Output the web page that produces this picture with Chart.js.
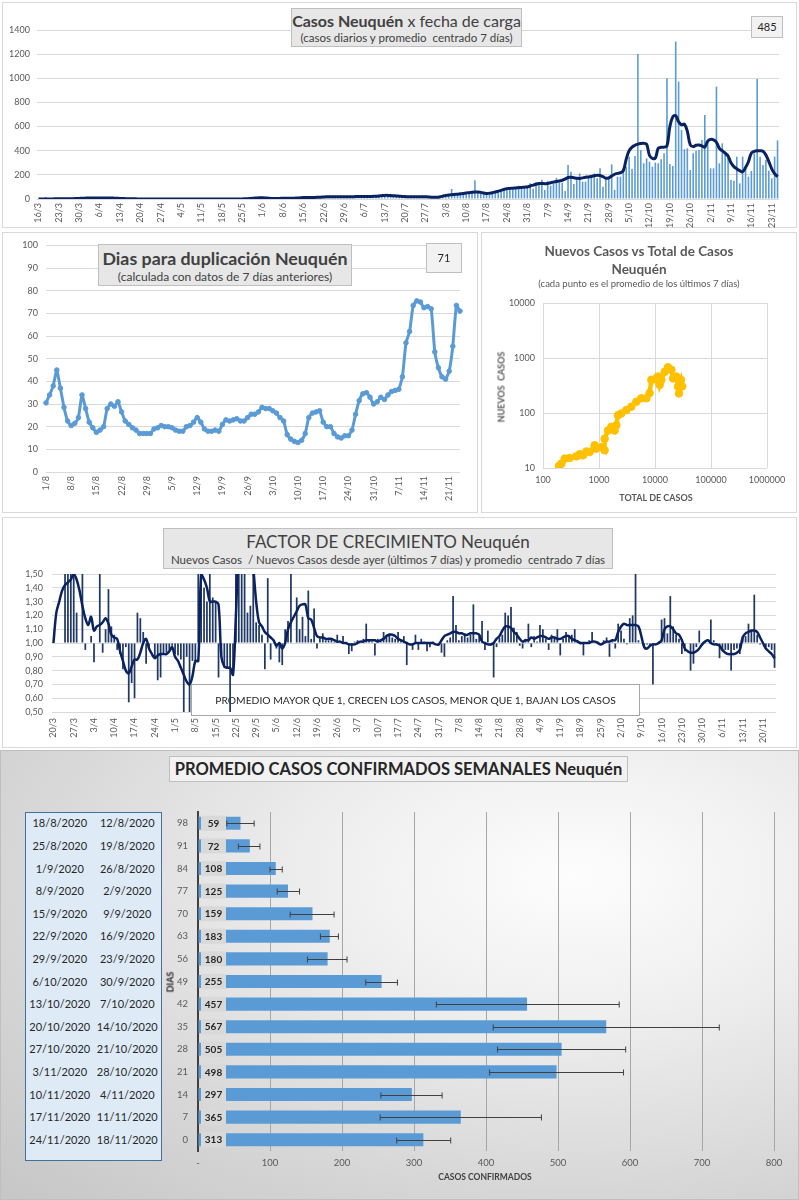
<!DOCTYPE html>
<html lang="es">
<head>
<meta charset="utf-8">
<title>Casos Neuquén</title>
<script src="https://cdn.jsdelivr.net/npm/chart.js@4.4.1/dist/chart.umd.min.js"></script>
<style>
  body { margin: 0; background: #fff; }
  #page { position: relative; width: 799px; height: 1200px; overflow: hidden; font-family: Lato, "Open Sans", sans-serif; color: #404040; }
  .panel { position: absolute; box-sizing: border-box; border: 1px solid #d9d9d9; background: #fff; }
  #p5 { border-color: #bfbfbf; background: radial-gradient(ellipse at 72% 28%, #fdfdfd 0%, #efefef 30%, #d6d6d6 70%, #c6c6c6 100%); }
  canvas.c { position: absolute; }
  .tbox { position: absolute; box-sizing: border-box; background: #e7e7e7; border: 1px solid #bfbfbf; text-align: center; color: #404040; white-space: nowrap; }
  .vbox { position: absolute; box-sizing: border-box; background: #f2f2f2; border: 1px solid #bfbfbf; text-align: center; font-size: 11px; color: #262626; }
  .lbl { position: absolute; white-space: nowrap; }
  .rot { transform: translate(-50%, -50%) rotate(-90deg); }
  #tabla { position: absolute; left: 25px; top: 812px; width: 137px; height: 349px; box-sizing: border-box; background: #deebf7; border: 1px solid #41719c; }
  .fila { position: absolute; left: 0; width: 100%; display: flex; font-size: 11px; line-height: 14px; color: #262626; }
  .fila span { width: 50%; text-align: center; }
</style>
</head>
<body>
<div id="page">
  <div class="panel" style="left:2px;top:2px;width:795px;height:226px"></div>
  <div class="panel" style="left:2px;top:232px;width:476px;height:281px"></div>
  <div class="panel" style="left:481px;top:232px;width:316px;height:281px"></div>
  <div class="panel" style="left:2px;top:517px;width:795px;height:231px"></div>
  <div class="panel" id="p5" style="left:0;top:750px;width:799px;height:450px"></div>

  <canvas class="c" id="casos" width="795" height="226" style="left:2px;top:2px"></canvas>
  <canvas class="c" id="dup" width="476" height="281" style="left:2px;top:232px"></canvas>
  <canvas class="c" id="nvt" width="316" height="281" style="left:481px;top:232px"></canvas>
  <canvas class="c" id="factor" width="795" height="231" style="left:2px;top:517px"></canvas>
  <canvas class="c" id="semanas" width="639" height="410" style="left:160px;top:790px"></canvas>

  <div class="tbox" style="left:291px;top:8px;width:231px;height:39px"><div style="font-size:16px;line-height:20px;margin-top:2px"><b>Casos Neuquén</b> x fecha de carga</div><div style="font-size:11.5px;line-height:14px">(casos diarios y promedio&nbsp; centrado 7 días)</div></div>
  <div class="vbox" id="ultimoCaso" style="left:751px;top:16px;width:32px;height:22px;line-height:20px"></div>

  <div class="tbox" style="left:98px;top:244px;width:254px;height:42px"><div style="font-size:17.8px;line-height:22px;margin-top:2px;font-weight:700">Dias para duplicación Neuquén</div><div style="font-size:12px;line-height:15px">(calculada con datos de 7 días anteriores)</div></div>
  <div class="vbox" id="ultimaDup" style="left:426px;top:243px;width:36px;height:30px;line-height:28px"></div>

  <div class="lbl" style="left:481px;width:316px;top:242px;text-align:center;font-size:13.5px;line-height:18px;font-weight:700;color:#595959">Nuevos Casos vs Total de Casos<br>Neuquén</div>
  <div class="lbl" style="left:481px;width:316px;top:278px;text-align:center;font-size:9.5px;line-height:12px;color:#595959">(cada punto es el promedio de los últimos 7 días)</div>
  <div class="lbl rot" style="left:501px;top:387px;font-size:9px;font-weight:700;color:#595959">NUEVOS&nbsp; CASOS</div>
  <div class="lbl" style="left:656px;top:497px;transform:translate(-50%,-50%);font-size:9px;font-weight:700;color:#595959">TOTAL DE CASOS</div>

  <div class="tbox" style="left:163px;top:528px;width:450px;height:41px"><div style="font-size:17px;line-height:22px;margin-top:2px">FACTOR DE CRECIMIENTO Neuquén</div><div style="font-size:11.5px;line-height:14px">Nuevos Casos&nbsp; / Nuevos Casos desde ayer (últimos 7 días) y promedio&nbsp; centrado 7 días</div></div>

  <div class="tbox" style="left:169px;top:756px;width:459px;height:26px;background:#f2f2f2;font-size:16.5px;line-height:24px;font-weight:700;color:#262626">PROMEDIO CASOS CONFIRMADOS SEMANALES Neuquén</div>
  <div id="tabla"></div>
  <div class="lbl rot" style="left:170px;top:982px;font-size:9px;font-weight:700;color:#262626">DIAS</div>
  <div class="lbl" style="left:485px;top:1177px;transform:translate(-50%,-50%);font-size:8.5px;font-weight:700;color:#404040">CASOS CONFIRMADOS</div>
</div>

<script>
// ---- casos diarios x fecha de carga (16/3 .. 25/11) ----
const casosDiarios = [
  0,0,1,0,2,1,3,1,2,3,2,4,3,6,7,5,                                         // mar
  9,7,11,6,8,10,7,9,10,8,9,5,3,2,4,1,3,2,1,0,2,3,1,2,0,1,1,2,1,0,           // abr
  1,0,2,1,0,1,0,2,1,0,1,1,0,2,0,1,0,1,3,1,0,2,1,0,1,2,0,1,3,2,8,            // may
  12,9,4,3,5,2,6,6,7,5,8,6,9,10,14,12,11,15,13,12,16,18,22,17,19,22,20,18,21,19, // jun
  22,17,23,20,18,22,24,21,20,26,24,30,42,32,30,28,25,22,20,18,16,15,19,17,16,21,17,14,13,12,10, // jul
  20,25,30,40,83,35,28,45,50,40,55,60,155,50,45,38,40,35,55,60,70,65,75,90,95,80,100,110,85,105,95, // ago
  130,85,140,120,160,75,150,110,130,175,150,135,66,282,226,124,171,212,144,144,185,199,212,171,254,102,185,171,287,75, // sep
  185,185,246,268,351,251,356,1201,406,296,337,309,268,301,296,329,378,1000,290,273,1304,972,572,412,420,240,378,400,406,489,696, // oct
  489,254,254,931,296,461,392,373,157,152,351,130,351,268,185,232,378,994,351,282,323,235,171,351,485 // nov
];
const casosPromedio = [
  0,0,1,1,1,1,2,2,2,2,3,3,3,4,5,6,
  7,8,8,8,8,8,8,8,8,8,7,6,5,4,3,2,2,2,1,1,1,1,1,1,1,1,1,1,1,1,
  1,1,1,1,1,1,1,1,1,1,1,1,1,1,1,1,1,1,1,1,1,1,1,1,1,2,3,5,7,9,10,
  10,9,7,5,4,4,5,6,6,6,6,7,8,10,12,12,12,13,13,14,15,17,18,18,19,19,19,19,19,19,
  19,19,20,20,20,20,21,21,22,23,25,28,30,30,29,27,25,23,21,20,19,19,19,19,19,19,18,17,15,14,14,
  18,24,30,33,36,38,40,43,46,50,52,55,57,58,55,50,45,48,52,58,65,72,80,86,88,90,92,94,96,98,100,
  108,115,122,128,128,127,128,135,140,145,150,155,165,178,180,176,172,170,175,180,183,187,192,197,195,185,172,175,190,205,
  212,218,235,330,400,430,445,455,460,461,455,360,337,340,420,428,430,440,600,680,690,640,615,620,560,450,434,445,447,440,430,
  480,494,490,470,420,400,380,356,300,268,250,235,226,260,309,380,395,400,400,395,365,310,250,210,185
];
const casosInicio = [2020, 3, 16];
const casosTicks = [0, 1400, 200];

// ---- dias para duplicacion (1/8 .. 24/11) ----
const dupValores = [
  30.5,34,38,45,37,28.5,22.5,20.5,21.5,24,34,28,22,19.5,17.5,18.5,20,28,30,29,31,26.5,22.5,21,19.5,18.5,17,17,17,17,
  19,19.5,20.5,20,20,19.5,18.5,18,18,20,20.5,22,24,22,19,18,18,18.5,
  18,21,23,22.5,23,23.5,22.5,22.5,24,25.5,25.5,26.5,
  28.5,28,28,27,26,24,22.5,16.5,14.5,13.5,
  13,14,17,24,26,26.5,27,22,20,20,17,15.5,15,16,16,
  18.5,25.5,31.5,34.5,35,33,30,31,33,32,34,35.5,36,36.5,42,
  57,62,73.5,75.5,75,72.5,73,72,53,46,42,41,44.5,55.5,73.5,71
];
const dupInicio = [2020, 8, 1];
const dupTicks = [0, 100, 10];

// ---- nuevos casos vs total (promedio 7 dias) ----
const totalCasos = [193,213,244,299,394,452,518,595,681,836,895,1100,1260,1260,1450,1660,1900,2040,2180,2500,
  3080,3780,4640,5700,7000,8000,8600,9900,11300,12100,13000,14900,17000,19600,21000,24000,25800,26800,27500,29000,30600];
const nuevosCasos = [10.9,12,14.8,15.2,16.3,17.8,17,20,19.6,25.9,22.5,24,21,34,48,56,48,60,91,98,
  113,130,160,185,185,230,400,410,460,324,400,560,680,610,425,460,300,227,345,400,305];
const totalTicks = [100, 1000, 10000, 100000, 1000000];
const nuevosTicks = [10, 100, 1000, 10000];

// ---- factor de crecimiento (20/3 .. 24/11) ----
const factorDiario = [
  1.00,1.00,1.00,1.00,1.60,1.60,1.60,1.60,1.22,1.00, 1.60,0.95,1.00,1.05,0.86,1.00,1.60,0.93,1.10,1.39,
  1.12,1.06,0.95,0.92,0.81,0.97,0.57,0.71,0.60,1.22, 1.18,1.08,0.85,0.97,1.00,0.89,0.73,0.75,0.92,0.93,
  0.95,0.98,0.92,0.91,0.88,0.50,0.90,0.50,0.87,0.87, 1.60,1.60,1.40,1.30,1.60,1.33,1.30,0.75,0.92,0.82,
  0.82,0.50,0.77,1.60,1.60,1.60,1.60,1.22,1.27,1.60, 1.15,1.13,1.06,0.81,1.47,0.88,1.00,0.96,0.86,0.84,
  1.10,1.16,1.60,1.00,1.33,1.10,1.19,1.05,1.38,1.03, 1.25,0.96,1.03,1.07,1.02,1.02,1.03,1.01,1.06,1.00,
  1.05,1.00,0.92,0.94,1.01,1.02,1.00,1.03,1.14,1.02, 1.01,0.91,1.03,1.02,1.08,1.06,1.07,1.04,1.03,1.08,
  1.02,1.05,0.84,0.99,0.95,1.06,0.95,1.03,1.01,0.94, 0.97,1.01,1.00,0.98,0.93,0.90,1.02,1.04,1.34,1.13,
  1.02,1.05,1.07,1.04,1.06,1.28,1.03,1.05,1.16,0.95, 1.09,0.98,0.75,0.97,1.04,1.06,1.22,1.20,1.26,1.11,
  1.08,0.98,0.96,1.03,1.14,0.97,1.05,1.01,1.13,1.10, 1.03,0.95,1.06,1.04,1.10,0.91,1.03,1.08,1.05,1.06,
  1.10,1.02,0.99,0.91,1.00,1.02,1.08,1.00,1.01,0.99, 1.02,1.04,0.90,1.01,0.96,1.14,1.09,1.03,0.99,1.18,
  1.20,1.60,1.02,1.00,0.97,0.99,0.98,0.70,1.00,1.01, 1.17,1.18,1.07,1.34,1.12,1.06,1.03,0.92,0.94,1.00,
  0.80,0.85,0.97,1.09,0.98,1.01,1.00,1.17,1.02,0.98, 0.89,0.94,0.95,0.95,0.80,0.95,0.96,0.92,1.05,1.05,
  1.14,1.09,1.35,1.06,0.99,1.00,0.97,0.97,0.95,0.82
];
const factorPromedio = [
  1.00,1.22,1.30,1.38,1.42,1.44,1.46,1.50,1.46,1.38, 1.27,1.18,1.13,1.19,1.09,1.12,1.13,1.15,1.18,1.14,
  1.06,1.04,1.03,0.94,0.87,0.80,0.78,0.83,0.88,0.88, 0.93,1.00,1.03,0.96,0.92,0.89,0.91,0.92,0.92,0.92,
  0.94,0.97,0.90,0.87,0.82,0.77,0.72,0.70,0.76,0.87, 0.87,1.50,1.46,1.40,1.30,1.30,1.30,1.28,0.90,0.83,
  0.82,0.82,0.77,1.20,1.70,1.90,2.00,1.90,1.80,1.55, 1.30,1.15,1.12,1.08,1.06,1.04,1.02,0.98,1.00,0.96,
  1.00,1.10,1.15,1.19,1.23,1.27,1.28,1.28,1.18,1.17, 1.11,1.05,1.04,1.04,1.03,1.03,1.03,1.02,1.01,1.01,
  1.00,1.00,0.99,0.99,0.99,1.00,1.01,1.01,1.02,1.02, 1.02,1.02,1.01,1.02,1.03,1.05,1.06,1.06,1.05,1.03,
  1.02,1.01,1.00,0.99,0.99,1.00,1.00,1.00,1.00,1.00, 1.00,1.00,0.99,0.99,1.02,1.05,1.06,1.07,1.08,1.08,
  1.07,1.07,1.06,1.06,1.07,1.07,1.07,1.06,1.01,1.00, 0.99,0.99,1.00,1.03,1.05,1.09,1.12,1.12,1.11,1.08,
  1.06,1.03,1.01,1.02,1.02,1.04,1.03,1.04,1.05,1.05, 1.04,1.03,1.04,1.04,1.03,1.03,1.04,1.05,1.05,1.03,
  1.02,1.01,1.00,1.00,1.00,1.00,1.01,1.01,1.00,0.99, 1.00,1.01,1.01,1.02,1.02,1.08,1.12,1.14,1.13,1.13,
  1.13,1.13,1.12,1.05,0.97,0.96,0.98,0.99,0.99,1.00, 1.02,1.10,1.12,1.12,1.10,1.07,1.06,1.02,0.96,0.94,
  0.93,0.93,0.94,0.96,0.99,1.01,1.02,1.00,0.99,0.99, 0.98,0.95,0.93,0.92,0.92,0.92,0.93,0.95,1.04,1.07,
  1.08,1.09,1.09,1.08,1.04,1.00,0.96,0.94,0.92,0.89
];
const factorInicio = [2020, 3, 20];
const factorTicks = [0.5, 1.5, 0.1];
const notaTexto = 'PROMEDIO MAYOR QUE 1, CRECEN LOS CASOS, MENOR QUE 1, BAJAN LOS CASOS';
const notaDesde = 47.6, notaHasta = 202.3, notaArriba = 0.70, notaAbajo = 0.48;

// ---- promedio semanal ----
const semanaDias = ['98','91','84','77','70','63','56','49','42','35','28','21','14','7','0'];
const semanaPromedio = [59,72,108,125,159,183,180,255,457,567,505,498,297,365,313];
const semanaMin = [40,56,100,110,128,170,152,233,331,410,416,405,254,253,276];
const semanaMax = [78,86,117,141,189,195,207,277,585,724,594,591,339,477,351];
const semanaFin = ['18/8/2020','25/8/2020','1/9/2020','8/9/2020','15/9/2020','22/9/2020','29/9/2020','6/10/2020',
  '13/10/2020','20/10/2020','27/10/2020','3/11/2020','10/11/2020','17/11/2020','24/11/2020'];
const semanaInicio = ['12/8/2020','19/8/2020','26/8/2020','2/9/2020','9/9/2020','16/9/2020','23/9/2020','30/9/2020',
  '7/10/2020','14/10/2020','21/10/2020','28/10/2020','4/11/2020','11/11/2020','18/11/2020'];
const semanaTicks = [0, 800, 100];

Chart.defaults.font.family = 'Lato, "Open Sans", sans-serif';
Chart.defaults.font.size = 9;
Chart.defaults.color = '#595959';
Chart.defaults.animation = false;
Chart.defaults.responsive = false;
Chart.defaults.plugins.legend.display = false;
Chart.defaults.plugins.tooltip.enabled = false;

const GRID = '#d9d9d9';
const NAVY = '#0b2260';

function dayLabels(start, n) {
    const out = [];
    for (let i = 0; i < n; i++) {
        const t = new Date(start[0], start[1] - 1, start[2] + i);
        out.push(t.getDate() + '/' + (t.getMonth() + 1));
    }
    return out;
}
function weekly(v, i) { return i % 7 === 0 ? this.getLabelForValue(v) : ''; }
const plain = v => String(v);
const fixW = w => s => { s.width = w; };
const fixH = h => s => { s.height = h; };
const dateAxis = (h, pad) => ({
    grid: {display: false, drawTicks: false}, border: {display: false}, afterFit: fixH(h),
    ticks: {autoSkip: false, minRotation: 90, maxRotation: 90, padding: pad, callback: weekly}
});

// casos diarios
new Chart(document.getElementById('casos'), {
    type: 'bar',
    data: {
        labels: dayLabels(casosInicio, casosDiarios.length),
        datasets: [
            {type: 'line', data: casosPromedio, borderColor: NAVY, borderWidth: 3, pointRadius: 0, tension: 0.4, order: 0},
            {data: casosDiarios, backgroundColor: '#5b9bd5', barPercentage: 0.55, categoryPercentage: 1, order: 1}
        ]
    },
    options: {
        layout: {padding: {left: 0, right: 18, top: 28, bottom: 0}},
        scales: {
            x: dateAxis(29, 4),
            y: {min: casosTicks[0], max: casosTicks[1], ticks: {stepSize: casosTicks[2], padding: 7, callback: plain},
                grid: {color: GRID, drawTicks: false}, border: {display: false}, afterFit: fixW(35)}
        }
    }
});
document.getElementById('ultimoCaso').textContent = casosDiarios[casosDiarios.length - 1];

// dias para duplicacion
new Chart(document.getElementById('dup'), {
    type: 'line',
    data: {
        labels: dayLabels(dupInicio, dupValores.length),
        datasets: [{data: dupValores, borderColor: '#5b9bd5', backgroundColor: '#5b9bd5', borderWidth: 3,
            pointRadius: 2.3, pointBorderWidth: 1, tension: 0.15}]
    },
    options: {
        layout: {padding: {left: 0, right: 18, top: 12, bottom: 0}},
        scales: {
            x: dateAxis(41, 4),
            y: {min: dupTicks[0], max: dupTicks[1], ticks: {stepSize: dupTicks[2], padding: 8},
                grid: {color: GRID, drawTicks: false}, border: {display: false}, afterFit: fixW(44)}
        }
    }
});
document.getElementById('ultimaDup').textContent = Math.round(dupValores[dupValores.length - 1]);

// nuevos vs total
const logAxis = (ticks, extra) => Object.assign({
    type: 'logarithmic', min: ticks[0], max: ticks[ticks.length - 1],
    afterBuildTicks: s => { s.ticks = ticks.map(v => ({value: v})); },
    grid: {color: GRID, drawTicks: false}, border: {display: false}
}, extra);
new Chart(document.getElementById('nvt'), {
    type: 'scatter',
    data: {
        datasets: [{data: totalCasos.map((x, i) => ({x, y: nuevosCasos[i]})), showLine: true,
            borderColor: '#ffc000', backgroundColor: '#ffc000', borderWidth: 4.5, pointRadius: 3.8, pointBorderWidth: 1}]
    },
    options: {
        layout: {padding: {left: 0, right: 30, top: 71, bottom: 0}},
        scales: {
            x: logAxis(totalTicks, {afterFit: fixH(45), ticks: {padding: 7, autoSkip: false, maxRotation: 0, callback: plain}}),
            y: logAxis(nuevosTicks, {afterFit: fixW(62), ticks: {padding: 8, callback: plain}})
        }
    }
});

// factor de crecimiento
const notaFactor = {
    id: 'notaFactor',
    beforeDatasetsDraw(chart) {
        const {ctx, scales: {x, y}} = chart;
        const l = Math.round(x.getPixelForValue(notaDesde)) + 0.5, r = Math.round(x.getPixelForValue(notaHasta)) + 0.5;
        const t = Math.round(y.getPixelForValue(notaArriba)) + 0.5, b = Math.round(y.getPixelForValue(notaAbajo)) + 0.5;
        ctx.save();
        ctx.fillStyle = '#fff';
        ctx.fillRect(l, t, r - l, b - t);
        ctx.strokeStyle = '#a6a6a6';
        ctx.lineWidth = 1;
        ctx.strokeRect(l, t, r - l, b - t);
        ctx.fillStyle = '#262626';
        ctx.font = '10.3px Lato, "Open Sans", sans-serif';
        ctx.textAlign = 'center';
        ctx.textBaseline = 'middle';
        ctx.fillText(notaTexto, (l + r) / 2, (t + b) / 2 + 1);
        ctx.restore();
    }
};
new Chart(document.getElementById('factor'), {
    type: 'bar',
    data: {
        labels: dayLabels(factorInicio, factorDiario.length),
        datasets: [
            {type: 'line', data: factorPromedio, borderColor: NAVY, borderWidth: 2.5, pointRadius: 0, tension: 0.35, order: 0},
            {data: factorDiario, base: 1, backgroundColor: '#203864', barPercentage: 0.6, categoryPercentage: 1, order: 1}
        ]
    },
    options: {
        layout: {padding: {left: 0, right: 21, top: 57, bottom: 0}},
        scales: {
            x: dateAxis(36, 6),
            y: {min: factorTicks[0], max: factorTicks[1],
                ticks: {stepSize: factorTicks[2], padding: 9, callback: v => v.toFixed(2).replace('.', ',')},
                grid: {color: GRID, drawTicks: false}, border: {display: false}, afterFit: fixW(50)}
        }
    },
    plugins: [notaFactor]
});

// promedio semanal
const etiquetasSemana = {
    id: 'etiquetasSemana',
    afterDatasetsDraw(chart) {
        const {ctx, scales: {x}} = chart;
        const x0 = x.getPixelForValue(0) + 3;
        ctx.save();
        chart.getDatasetMeta(0).data.forEach((bar, i) => {
            const {y, height} = bar.getProps(['y', 'height']);
            const xl = x.getPixelForValue(semanaMin[i]), xh = x.getPixelForValue(semanaMax[i]);
            const yc = Math.round(y) + 0.5;
            ctx.strokeStyle = '#404040';
            ctx.lineWidth = 1;
            ctx.beginPath();
            ctx.moveTo(xl, yc); ctx.lineTo(xh, yc);
            ctx.moveTo(xl, yc - 3); ctx.lineTo(xl, yc + 3);
            ctx.moveTo(xh, yc - 3); ctx.lineTo(xh, yc + 3);
            ctx.stroke();
            ctx.fillStyle = '#d9d9d9';
            ctx.fillRect(x0, y - height / 2 - 1, 25, height + 2);
            ctx.fillStyle = '#262626';
            ctx.font = 'bold 10px Lato, "Open Sans", sans-serif';
            ctx.textAlign = 'center';
            ctx.textBaseline = 'middle';
            ctx.fillText(semanaPromedio[i], x0 + 12.5, y + 0.5);
        });
        ctx.restore();
    }
};
const semChart = new Chart(document.getElementById('semanas'), {
    type: 'bar',
    data: {
        labels: semanaDias,
        datasets: [{data: semanaPromedio, backgroundColor: '#5b9bd5', barPercentage: 0.58, categoryPercentage: 1}]
    },
    options: {
        indexAxis: 'y',
        layout: {padding: {left: 0, right: 25, top: 22, bottom: 0}},
        scales: {
            x: {min: semanaTicks[0], max: semanaTicks[1],
                ticks: {stepSize: semanaTicks[2], padding: 6, font: {size: 9.5}, callback: v => v === 0 ? '-' : v},
                grid: {color: '#a6a6a6', drawTicks: false}, border: {display: false}, afterFit: fixH(49)},
            y: {grid: {display: false, drawTicks: false}, border: {display: true, color: '#404040', width: 2},
                ticks: {padding: 10, font: {size: 9.5}}, afterFit: fixW(38)}
        }
    },
    plugins: [etiquetasSemana]
});

const tabla = document.getElementById('tabla');
semanaFin.forEach((fin, i) => {
    const yc = semChart.scales.y.getPixelForValue(i) + 790 - 813;
    const fila = document.createElement('div');
    fila.className = 'fila';
    fila.style.top = (yc - 7) + 'px';
    fila.innerHTML = '<span>' + fin + '</span><span>' + semanaInicio[i] + '</span>';
    tabla.appendChild(fila);
});
</script>
</body>
</html>
